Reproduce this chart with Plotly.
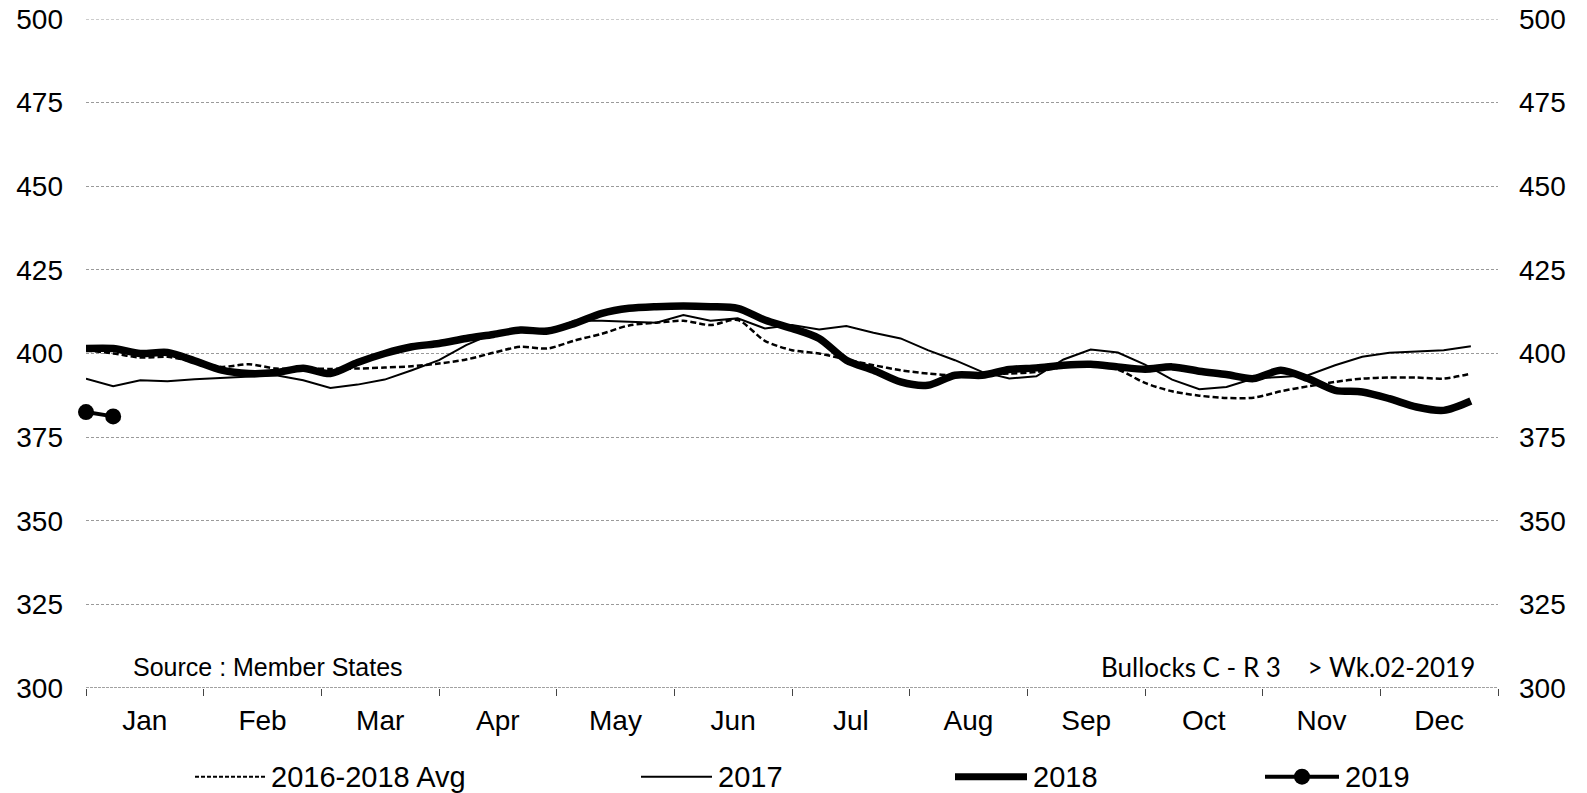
import plotly.graph_objects as go

weeks = list(range(1, 53))
months = ["Jan", "Feb", "Mar", "Apr", "May", "Jun", "Jul", "Aug", "Sep", "Oct", "Nov", "Dec"]
y_ticks = [300, 325, 350, 375, 400, 425, 450, 475, 500]

avg_2016_2018 = [401, 400, 398.8, 399, 397.5, 396, 396.8, 395.5, 395.5, 395.4,
                 395.5, 395.8, 396.2, 397, 398.2, 400.2, 402, 401.5, 403.9, 405.9,
                 408.4, 409.2, 409.8, 408.5, 410, 403.8, 401, 400, 398.2, 396.5,
                 395, 394, 393.5, 394, 394, 394.5, 396, 396.5, 395.2, 391.2,
                 388.7, 387.4, 386.7, 386.8, 388.7, 390.2, 391.5, 392.5, 392.8, 392.8,
                 392.5, 394]
y2017 = [392.5, 390.2, 392, 391.7, 392.3, 392.7, 393, 393.5, 392, 389.7,
         390.7, 392.2, 395, 398, 402.5, 406, 407.2, 406.7, 409.8, 409.8,
         409.5, 409.2, 411.5, 409.8, 410.5, 407.5, 408.5, 407.2, 408.2, 406.2,
         404.5, 401, 398, 394.5, 392.5, 393.2, 398.2, 401.2, 400.3, 396.7,
         392.2, 389.3, 390, 392.5, 393, 393.5, 396.5, 399, 400.2, 400.5,
         401, 402.2]
y2018 = [401.5, 401.5, 400, 400.3, 397.8, 395, 394, 394.3, 395.6, 394,
         397.3, 400, 402, 403, 404.5, 405.7, 407, 406.7, 409, 412,
         413.5, 414, 414.2, 414, 413.5, 410, 407.5, 404.5, 398, 395,
         391.5, 390.5, 393.5, 393.5, 395.2, 395.7, 396.5, 396.8, 396, 395.3,
         396, 394.7, 393.7, 392.5, 395, 392.5, 389, 388.5, 386.5, 384,
         383, 385.8]
weeks_2019 = [1, 2]
y2019 = [382.5, 381.2]

series_names = ["2016-2018 Avg", "2017", "2018", "2019"]

FONT = "Liberation Sans, Arial, sans-serif"
n_weeks = len(weeks)
month_w = n_weeks / len(months)

# page body margin is removed (post_script), so figure pixels == screen pixels
W, H = 1587, 793
PL, PR, PT, PB = 86, 1498, 19.3, 688.3   # plot area in pixels
PW, PH = PR - PL, PB - PT

def px(v):   # screen x -> paper x
    return (v - PL) / PW

def py(v):   # screen y -> paper y
    return (PB - v) / PH

fig = go.Figure()
fig.add_trace(go.Scatter(x=weeks, y=avg_2016_2018, mode="lines", name=series_names[0],
                         line=dict(color="black", width=2.5, dash="6px,3px", shape="spline", smoothing=0.8),
                         showlegend=False))
fig.add_trace(go.Scatter(x=weeks, y=y2017, mode="lines", name=series_names[1],
                         line=dict(color="black", width=2), showlegend=False))
fig.add_trace(go.Scatter(x=weeks, y=y2018, mode="lines", name=series_names[2],
                         line=dict(color="black", width=7.5, shape="spline", smoothing=0.8),
                         showlegend=False))
fig.add_trace(go.Scatter(x=weeks_2019, y=y2019, mode="lines+markers", name=series_names[3],
                         line=dict(color="black", width=4),
                         marker=dict(color="black", size=16), showlegend=False, cliponaxis=False))
# invisible trace to anchor right axis
fig.add_trace(go.Scatter(x=[None], y=[None], yaxis="y2", showlegend=False, hoverinfo="skip"))

fig.update_layout(
    width=W, height=H,
    margin=dict(l=PL, r=W - PR, t=PT, b=H - PB, autoexpand=False),
    plot_bgcolor="white", paper_bgcolor="white",
    font=dict(family=FONT, size=28, color="black"),
    xaxis=dict(
        range=[1, 1 + n_weeks],
        tickmode="array",
        tickvals=[1 + (i + 0.5) * month_w for i in range(len(months))],
        ticktext=months,
        ticks="",
        automargin=False,
        showgrid=False, zeroline=False, showline=False,
        ticklabelstandoff=13,
        tickfont=dict(size=28, family=FONT),
        minor=dict(tickmode="linear", tick0=1, dtick=month_w, ticks="outside",
                   ticklen=7, tickwidth=1, tickcolor="#444", showgrid=False),
    ),
    yaxis=dict(
        range=[300, 500], tickmode="array", tickvals=y_ticks,
        showgrid=True, gridcolor="#9a9a9a", gridwidth=1, griddash="3px,2px",
        zeroline=False, showline=False, ticks="", automargin=False,
        ticklabelstandoff=22, ticklabeloverflow="allow",
        tickfont=dict(size=28, family=FONT),
    ),
    yaxis2=dict(
        range=[300, 500], tickmode="array", tickvals=y_ticks,
        overlaying="y", side="right", showgrid=False, zeroline=False, showline=False,
        ticks="", ticklabelstandoff=20, automargin=False, ticklabeloverflow="allow",
        tickfont=dict(size=28, family=FONT),
    ),
)

# top gridline at the range edge (plotly omits it)
fig.add_shape(type="line", xref="paper", yref="y", x0=0, x1=1, y0=500, y1=500,
              line=dict(color="#9a9a9a", width=1, dash="3px,2px"), layer="below")
# bottom axis line (dashed)
fig.add_shape(type="line", xref="paper", yref="y", x0=0, x1=1, y0=300, y1=300,
              line=dict(color="#444", width=1, dash="3px,1px"), layer="above")

# annotations
fig.add_annotation(text="Source : Member States", xref="paper", yref="paper",
                   x=px(131), y=py(667), xanchor="left", yanchor="middle",
                   showarrow=False, font=dict(family=FONT, size=25, color="black"))
fig.add_annotation(text="Bullocks C - R 3\u00a0\u00a0\u00a0\u00a0> Wk.02-2019", xref="paper", yref="paper",
                   x=px(1477), y=py(667), xanchor="right", yanchor="middle",
                   showarrow=False, font=dict(family="Lato, Noto Sans, sans-serif", size=26, color="black"))

# manual legend
leg_y = py(777)
legend_items = [
    (series_names[0], 195, 265, dict(color="black", width=2, dash="4px,2px"), False),
    (series_names[1], 641, 712, dict(color="black", width=2), False),
    (series_names[2], 955, 1027, dict(color="black", width=7), False),
    (series_names[3], 1265, 1339, dict(color="black", width=4), True),
]
for name, x0, x1, ln, mk in legend_items:
    fig.add_shape(type="line", xref="paper", yref="paper", x0=px(x0), x1=px(x1), y0=leg_y, y1=leg_y,
                  line=ln)
    if mk:
        xc = (x0 + x1) / 2
        r = 8
        fig.add_shape(type="circle", xref="paper", yref="paper",
                      x0=px(xc - r), x1=px(xc + r), y0=leg_y - r / PH, y1=leg_y + r / PH,
                      fillcolor="black", line=dict(color="black", width=0))
    fig.add_annotation(text=name, xref="paper", yref="paper", x=px(x1 + 4), y=leg_y,
                       xanchor="left", yanchor="middle", showarrow=False,
                       font=dict(family=FONT, size=29, color="black"))

fig.write_html("out.html", config={"displayModeBar": False},
               post_script="document.body.style.margin='0';document.body.style.overflow='hidden';")
